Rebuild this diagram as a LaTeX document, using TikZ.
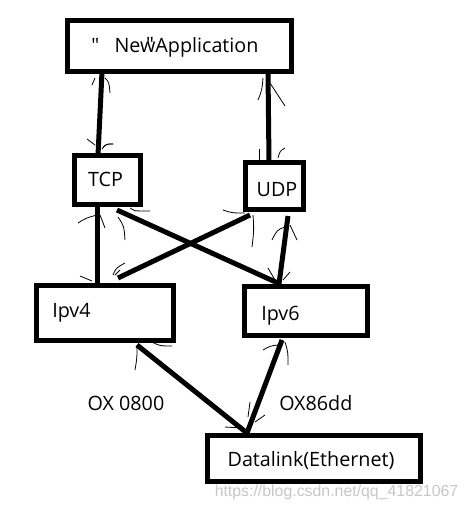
\documentclass[tikz,border=0pt]{standalone}
\usepackage{fontspec}
\setmainfont[Ligatures=TeXOff]{Open Sans}
\newfontfamily\wmfont{Liberation Sans}
\usetikzlibrary{calc}
\newcommand{\sq}{\symbol{"22}}
\begin{document}
\begin{tikzpicture}[x=0.75pt,y=-0.75pt,
  box/.style={draw=black,line width=3.75pt,outer sep=0pt,inner sep=0pt},
  thick line/.style={line width=3.75pt},
  scribble/.style={line width=0.6pt},
  lbl/.style={inner sep=0pt,font=\fontsize{14.8pt}{16pt}\selectfont}]
\useasboundingbox[fill=white] (0,0) rectangle (468,510);
% boxes
\node[box,minimum width=168pt,minimum height=38.25pt] (app) at (179,46.5) {};
\node[box,minimum width=49.5pt,minimum height=36.75pt] (tcp) at (107,179.5) {};
\node[box,minimum width=43.5pt,minimum height=35.25pt] (udp) at (274,185.5) {};
\node[box,minimum width=102.75pt,minimum height=41.25pt] (ipv4) at (104.5,312.5) {};
\node[box,minimum width=92.25pt,minimum height=36.75pt] (ipv6) at (305.5,310.5) {};
\node[box,minimum width=159.75pt,minimum height=34.5pt] (dl) at (313.5,458) {};
% texts
\node[lbl,anchor=west] (tapp) at (91,47) {\sq\ \ \ New\llap{\raisebox{1pt}{\sq}\kern1pt}Application};
\node[lbl] (ttcp) at (105.5,179) {TCP};
\node[lbl] (tudp) at (277,190) {UDP};
\node[lbl,anchor=west] (tipv4) at (52,313) {Ipv4};
\node[lbl,anchor=west] (tipv6) at (261,316) {Ipv6};
\node[lbl] (tdl) at (311,461) {Datalink(Ethernet)};
\node[lbl] (t0800) at (126,403) {OX 0800};
\node[lbl,anchor=west] (t86dd) at (279,403) {OX86dd};
\node[inner sep=0pt,text=black!22,font=\wmfont\fontsize{11.9pt}{13pt}\selectfont] (wm) at (336.5,492) {https://blog.csdn.net/qq\_41821067};
% connectors
\draw[thick line] ($(app.south)+(-77,0)$) -- ($(tcp.north)+(-9,0)$);
\draw[thick line] ($(app.south)+(89,0)$) -- ($(udp.north)+(-5,0)$);
\draw[thick line] ($(tcp.south)+(-10,0)$) -- ($(ipv4.north)+(-7.5,0)$);
\draw[thick line] ($(tcp.south)+(10,6)$) -- ($(ipv6.north)+(-25.5,-2)$);
\draw[thick line] ($(udp.south)+(-24,6)$) -- ($(ipv4.north)+(13.5,-7)$);
\draw[thick line] ($(udp.south)+(14,7)$) -- ($(ipv6.north)+(-26.5,-2)$);
\draw[thick line] ($(ipv4.south)+(32.5,5)$) -- ($(dl.north)+(-66.5,-2)$);
\draw[thick line] ($(dl.north)+(-66.5,-2)$) -- ($(ipv6.south)+(-23.5,5)$);
% hand-drawn scribbles
\draw[scribble] (92,85) -- (95,78);
\draw[scribble] (105,78) .. controls (109,82) .. (110,93);
\draw[scribble] (87,139) -- (95,145);
\draw[scribble] (102,149) .. controls (106,144) .. (113,144);
\draw[scribble] (263,78) .. controls (262,90) .. (258,100);
\draw[scribble] (270,83) .. controls (278,95) .. (285,106);
\draw[scribble] (259,149) -- (259,160);
\draw[scribble] (278,158) .. controls (280,151) .. (285,148);
\draw[scribble] (103,147) .. controls (107,144) .. (113,144);
\draw[scribble] (78,223) .. controls (86,218) .. (97,215);
\draw[scribble] (100,215) -- (105,228);
\draw[scribble] (118,217) .. controls (124,226) .. (125,240);
\draw[scribble] (130,208) .. controls (133,211) .. (150,211);
\draw[scribble] (223,210) .. controls (232,213) .. (245,213);
\draw[scribble] (253,215) .. controls (254,230) .. (252,247);
\draw[scribble] (272,240) .. controls (277,230) .. (285,227);
\draw[scribble] (290,225) -- (297,240);
\draw[scribble] (268,268) -- (275,280);
\draw[scribble] (283,280) -- (290,272);
\draw[scribble] (80,276) -- (92,281);
\draw[scribble] (113,275) .. controls (116,268) .. (125,263);
\draw[scribble] (115,275) -- (120,270);
\draw[scribble] (135,370) .. controls (137,358) .. (137,345);
\draw[scribble] (152,342) .. controls (160,346) .. (172,346);
\draw[scribble] (225,427) -- (242,428);
\draw[scribble] (250,402) -- (248,417);
\draw[scribble] (255,422) -- (265,415);
\draw[scribble] (263,350) .. controls (270,346) .. (278,345);
\draw[scribble] (285,342) .. controls (288,352) .. (288,365);
\end{tikzpicture}
\end{document}
